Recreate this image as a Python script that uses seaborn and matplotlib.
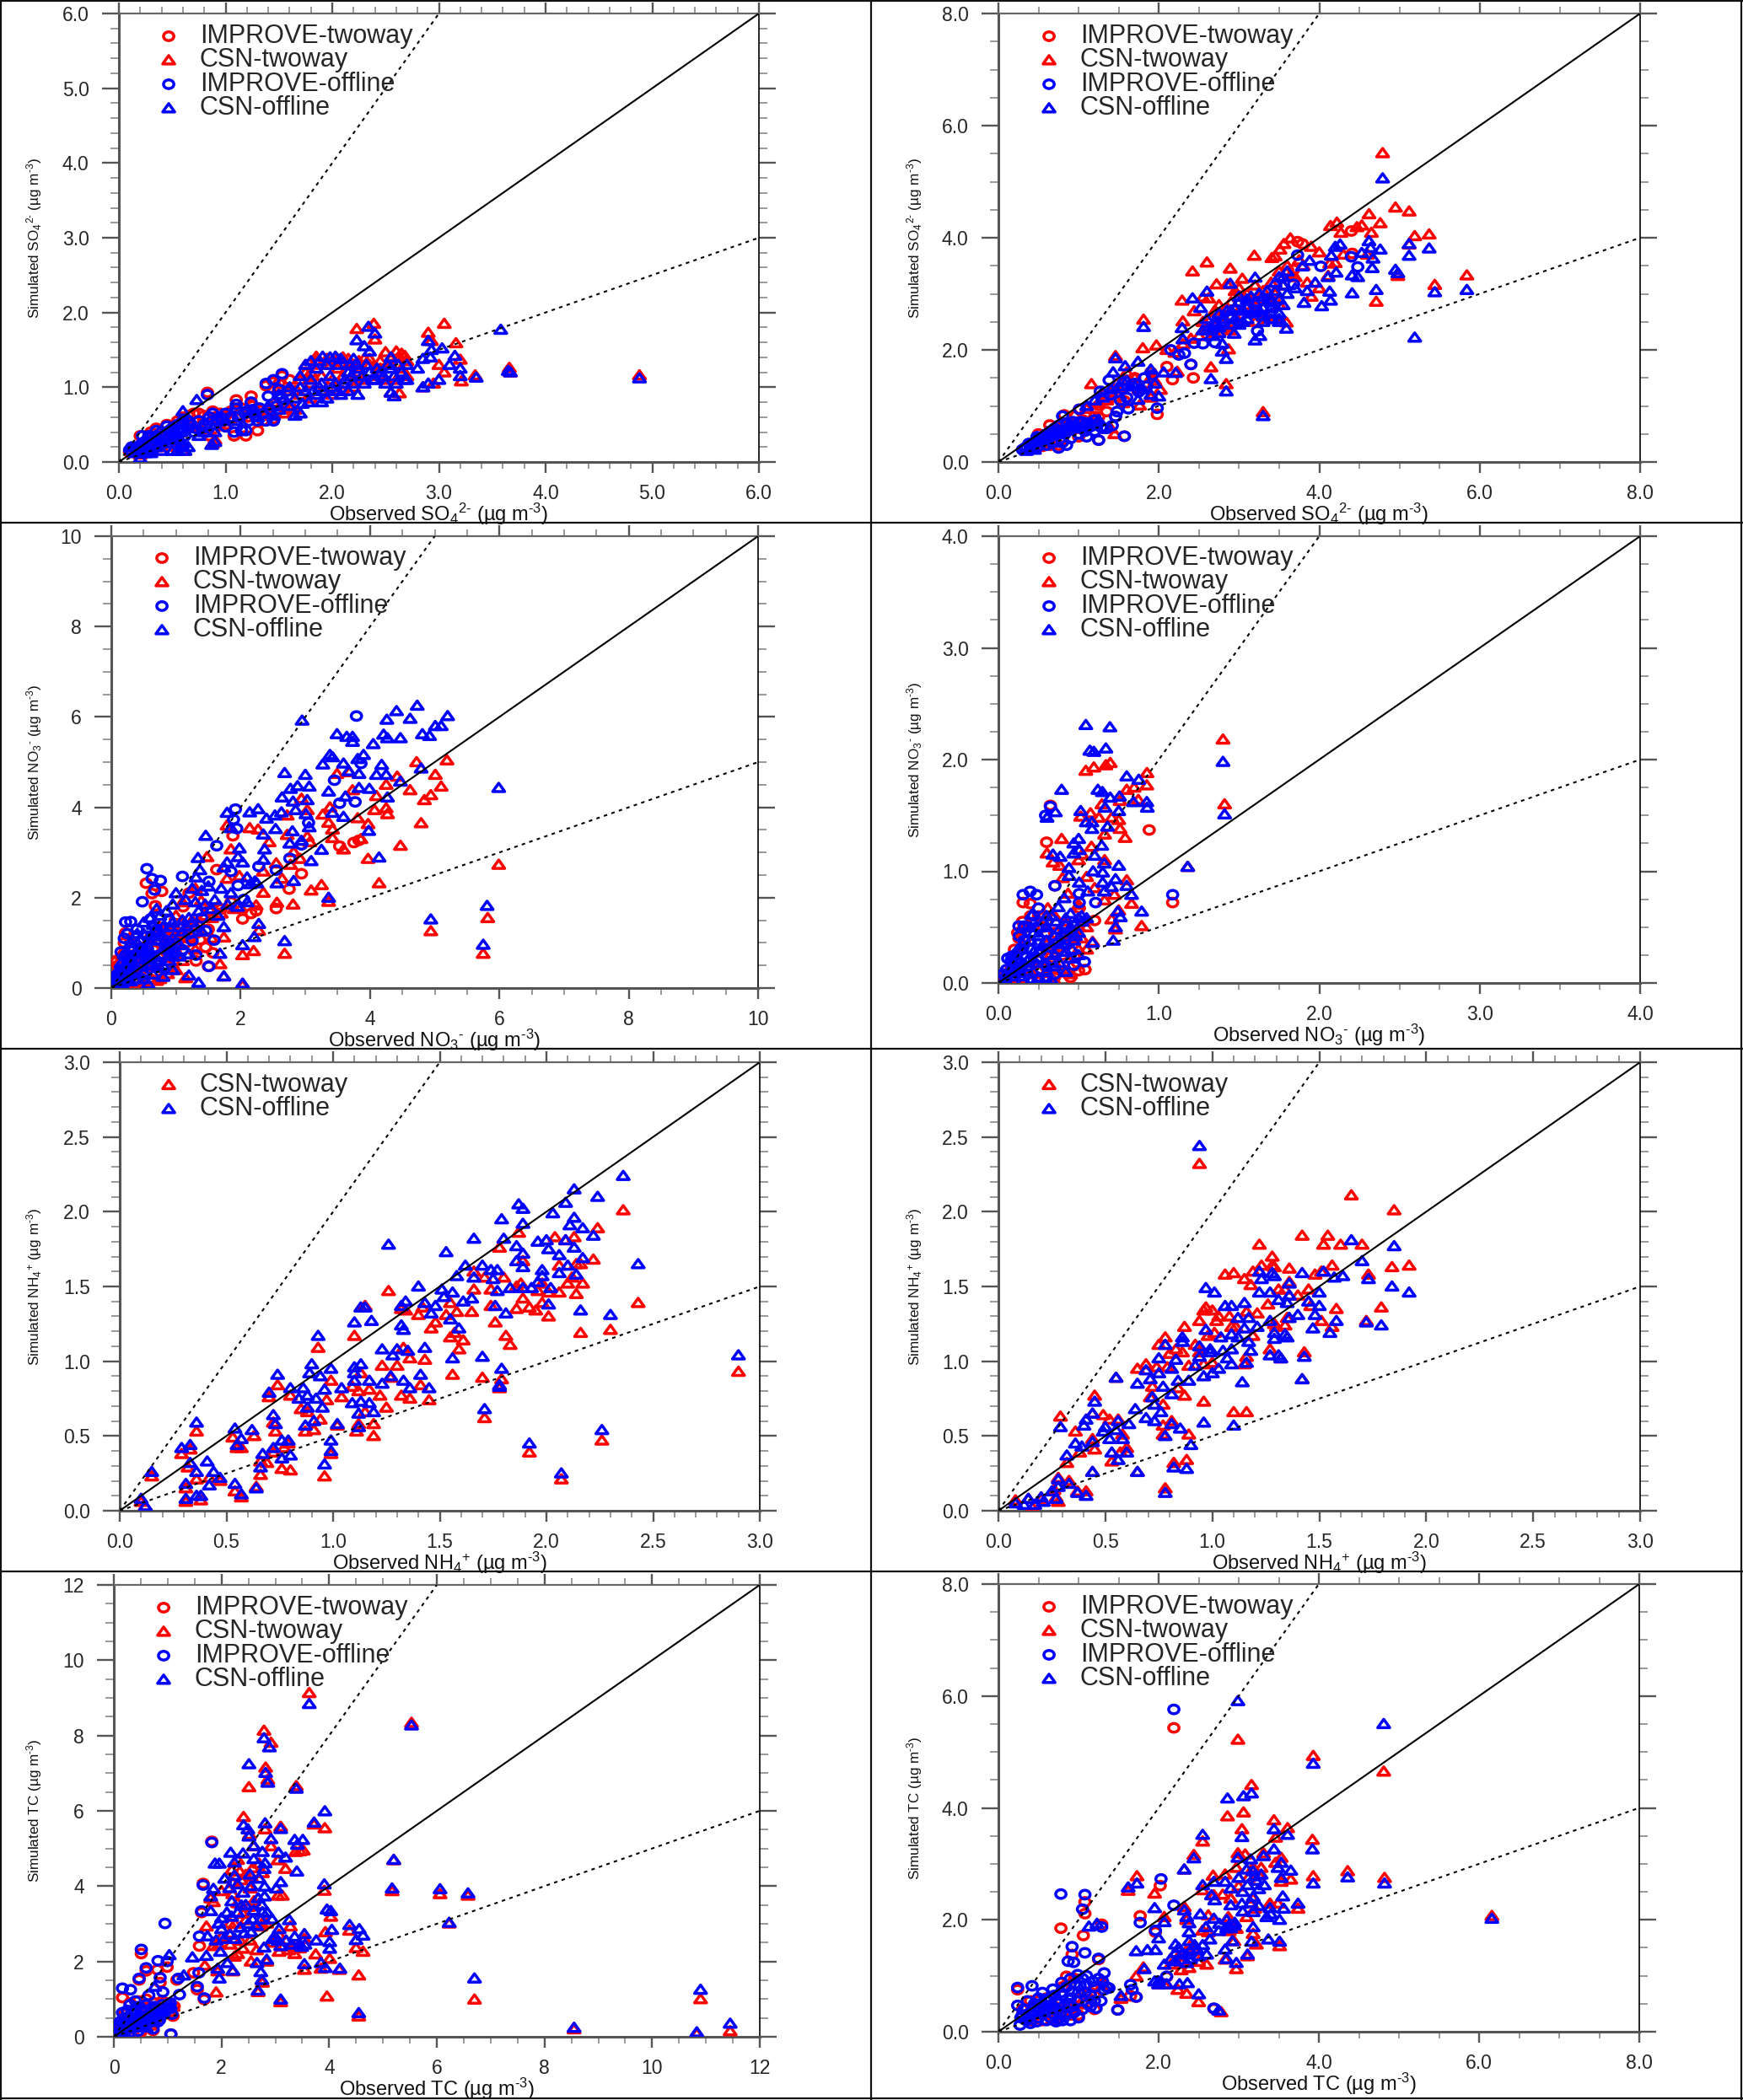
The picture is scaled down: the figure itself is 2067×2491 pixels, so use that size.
import matplotlib
matplotlib.use("Agg")
import matplotlib.pyplot as plt
import seaborn as sns
from matplotlib.lines import Line2D
from matplotlib.path import Path
from matplotlib.ticker import MultipleLocator, FormatStrFormatter

# ---------- values (observed, simulated) ----------
P1_IT = [(.83,.93),(1.1,.83),(1.24,.88),(1.53,1.15),(1.38,1.02),(1.45,1.07),(1.5,1.05),(1.3,.42),(1.35,.55),(1.4,.62),(1.45,.58),(1.08,.35),(1.19,.35),(.88,.68),(.75,.65),(.8,.62),(.95,.65),(1.0,.62),(1.1,.7),(1.15,.72),(1.25,.75),(1.3,.72),(1.35,.7),(.7,.55),(.75,.45),(.85,.35),(.9,.45),(1.0,.5),(1.05,.55),(1.2,.6),(.6,.4),(.65,.5),(.55,.3),(.5,.45),(.45,.4),(.4,.3),(.35,.25),(.3,.3),(.25,.2),(.2,.2),(.15,.15),(.1,.13),(.2,.35),(.3,.4),(.35,.45),(.45,.5),(.55,.55),(.6,.6),(1.6,1.1),(1.65,.95),(1.55,.8),(1.6,.7),(1.47,.65),(.65,.62),(.7,.65),(.8,.45),(.9,.6),(.95,.5),(1.05,.68),(1.15,.6),(1.25,.65),(.3,.22),(.4,.4),(.5,.35),(.55,.42)]
P1_CT = [(3.05,1.85),(2.39,1.85),(2.23,1.78),(2.9,1.73),(3.16,1.59),(2.4,1.64),(2.93,1.62),(3.2,1.37),(3.0,1.3),(2.6,1.48),(2.65,1.45),(2.5,1.47),(1.85,1.41),(2.1,1.4),(2.15,1.38),(2.3,1.38),(2.7,1.35),(3.21,1.08),(3.67,1.2),(3.66,1.26),(4.88,1.16),(3.34,1.16),(2.63,.92),(2.55,.93),(2.95,1.05),(2.85,1.0),(3.05,1.2),(1.75,1.3),(1.8,1.2),(1.9,1.3),(2.0,1.35),(2.05,1.25),(2.2,1.3),(2.25,1.2),(2.35,1.3),(2.45,1.25),(2.55,1.3),(2.65,1.25),(1.7,1.1),(1.8,1.05),(1.9,1.15),(2.0,1.1),(2.1,1.15),(2.2,1.1),(2.3,1.1),(2.4,1.15),(2.5,1.1),(2.6,1.1),(2.7,1.15),(1.6,.95),(1.7,.9),(1.8,.85),(1.9,.95),(2.0,.9),(2.1,.95),(2.2,1.0),(1.65,.7),(1.55,.65),(1.45,.8),(1.4,.7),(.9,.3),(.88,.25),(.55,.2),(.6,.15),(.2,.1),(.3,.15),(.4,.2),(1.75,1.2),(1.85,1.35),(1.95,1.38),(2.05,1.38),(2.15,1.3),(2.25,1.35),(2.35,1.38),(2.45,1.35),(2.55,1.38),(2.62,1.4),(2.68,1.42),(1.5,1.0),(1.55,.75),(.6,.55),(.5,.4),(.4,.3),(.3,.25),(.2,.15),(1.0,.55),(1.2,.65)]
P1_IO = [(.83,.9),(1.1,.77),(1.24,.8),(1.53,1.18),(1.38,1.05),(1.45,1.1),(1.4,.88),(1.5,.97),(1.15,.42),(1.08,.4),(1.19,.42),(.88,.65),(.85,.6),(.95,.6),(1.0,.65),(1.1,.72),(1.25,.7),(1.3,.55),(1.35,.65),(1.45,.55),(1.2,.68),(.75,.55),(.8,.5),(.9,.5),(1.0,.47),(.7,.4),(.6,.5),(.65,.45),(.55,.5),(.5,.45),(.22,.35),(.45,.48),(.4,.4),(.35,.35),(.3,.33),(.25,.28),(.2,.22),(.15,.18),(.12,.14),(.1,.16),(.3,.2),(.4,.25),(.5,.3),(.55,.35),(.6,.55),(.65,.55),(.2,.15),(.15,.2),(.35,.42),(.12,.2),(.18,.12),(.22,.25),(.28,.15),(.28,.35),(.33,.2),(.38,.28),(.42,.35),(.47,.42),(.52,.38),(.58,.42),(.62,.35),(.68,.5),(.72,.45),(.78,.45),(.82,.4),(.87,.55),(.92,.55),(.97,.55),(1.05,.6),(1.12,.6),(1.18,.65),(1.22,.55),(1.28,.62),(1.32,.72),(1.38,.55),(1.42,.7),(1.48,.75),(1.52,.85),(1.58,.95)]
P1_CO = [(3.58,1.77),(2.34,1.81),(2.4,1.72),(2.23,1.63),(2.9,1.62),(2.3,1.55),(3.03,1.52),(2.93,1.5),(2.35,1.48),(3.15,1.42),(2.85,1.38),(2.92,1.4),(2.55,1.4),(1.91,1.41),(2.03,1.41),(1.8,1.35),(2.17,1.3),(2.7,1.3),(3.1,1.3),(3.2,1.25),(2.8,1.25),(3.2,1.15),(3.35,1.13),(3.65,1.22),(3.67,1.2),(4.88,1.12),(3.0,1.1),(2.9,1.05),(2.85,1.0),(2.55,.93),(2.58,.88),(2.24,.9),(.73,.83),(.6,.68),(1.7,.65),(1.75,1.3),(1.85,1.25),(1.95,1.3),(2.05,1.3),(2.15,1.2),(2.25,1.25),(2.35,1.2),(2.45,1.2),(2.55,1.25),(2.65,1.2),(2.7,1.1),(2.6,1.05),(2.5,1.05),(2.4,1.1),(2.3,1.05),(2.2,1.05),(2.1,1.05),(2.0,1.0),(1.9,1.05),(1.8,1.1),(1.7,1.15),(1.75,.95),(1.85,.9),(1.95,.85),(2.05,.95),(2.15,.95),(1.65,.85),(1.55,.85),(1.6,.75),(1.5,.7),(1.45,.62),(1.65,.62),(1.9,.8),(.9,.27),(.87,.23),(.6,.2),(.55,.15),(.62,.15),(.5,.15),(.4,.15),(.3,.12),(.2,.05),(.25,.2),(.35,.3),(.45,.35),(.15,.12),(.25,.12),(.35,.2),(.45,.25),(.5,.25),(.55,.3),(.6,.25),(.65,.2),(.58,.4),(.5,.45),(.42,.3),(.3,.25),(.75,.35),(.8,.4),(.9,.4),(1.0,.55),(1.1,.55),(1.2,.7),(1.3,.6),(1.4,.75),(1.5,.9),(1.6,1.0),(1.7,1.0),(1.72,.78),(1.78,.8),(1.82,.95),(1.88,1.0),(1.93,.95),(1.98,1.15),(2.03,1.05),(2.08,.9),(2.12,1.1),(2.18,1.15),(2.22,1.3),(2.28,1.15),(2.32,1.3),(2.38,1.1),(2.42,1.25),(2.48,1.15),(2.52,1.3),(2.58,1.15),(2.62,1.3),(2.68,1.1),(1.88,1.35),(1.98,1.4),(2.08,1.38),(2.2,1.38)]

P2_IT = [(3.73,3.93),(3.79,3.89),(4.4,4.12),(4.41,3.72),(3.68,3.43),(2.43,1.5),(2.17,1.47),(1.98,.85),(2.4,1.74),(1.25,1.01),(1.57,1.09),(3.23,2.49),(.64,.66),(1.25,.39),(1.57,.46),(1.2,.81),(1.46,.81),(1.01,.94),(.82,.84),(1.3,1.2),(1.5,1.4),(1.7,1.5),(1.9,1.6),(2.1,1.7),(.9,.7),(.7,.5),(.5,.4),(.4,.3),(.6,.35),(.8,.4),(1.0,.45),(.35,.25),(.5,.5),(.55,.45),(.65,.55),(.75,.6),(.85,.65),(.95,.7),(1.05,.75),(1.15,.65),(1.25,.8),(1.35,.9),(.45,.3),(.55,.28),(.65,.3),(.75,.3)]
P2_CT = [(4.79,5.51),(4.95,4.54),(5.12,4.47),(4.62,4.42),(4.76,4.26),(4.22,4.27),(4.14,4.21),(4.27,4.09),(4.53,4.22),(4.47,4.19),(4.65,4.09),(5.19,4.03),(5.37,4.06),(5.12,3.88),(4.98,3.32),(5.84,3.33),(5.44,3.16),(4.71,2.86),(3.59,2.49),(2.84,1.39),(3.3,.89),(2.65,1.69),(3.64,3.99),(3.56,3.89),(3.51,3.79),(3.45,3.67),(3.41,3.64),(3.19,3.68),(2.6,3.56),(2.42,3.4),(2.89,3.45),(3.9,3.84),(4.0,3.74),(4.13,3.54),(4.11,3.32),(3.04,3.27),(2.72,3.17),(2.85,3.17),(2.29,2.88),(2.55,2.94),(2.62,2.92),(2.44,2.69),(2.3,2.51),(1.81,2.54),(1.46,1.89),(1.8,2.03),(1.97,2.08),(1.16,1.39),(1.76,1.01),(2.02,1.29),(2.23,1.61),(2.87,2.01),(3.0,3.1),(3.1,3.0),(3.2,3.15),(3.3,3.05),(3.4,3.2),(3.5,3.4),(3.6,3.5),(3.7,3.3),(2.9,2.85),(3.0,2.7),(3.1,2.8),(2.7,2.7),(2.8,2.6),(3.3,2.75),(3.5,2.8),(3.8,3.5),(3.85,3.2),(4.0,3.1),(3.9,2.95),(2.6,2.4),(2.7,2.3),(2.85,2.4),(2.9,2.35),(3.2,2.5),(2.5,2.25),(2.1,2.0),(2.2,1.95),(1.6,1.6),(1.7,1.5),(1.9,1.5),(1.5,1.3),(1.4,1.25),(1.3,1.2),(1.9,1.15),(1.55,1.05),(1.25,1.05),(1.1,.95),(.95,.85),(.8,.7),(.7,.55),(.6,.45),(.5,.4),(1.4,.6),(1.45,.5),(2.55,2.5),(2.65,2.55),(2.75,2.8),(2.85,2.75),(2.95,3.05),(3.05,2.95),(3.15,2.9),(3.25,2.95),(3.35,2.9),(3.45,3.0),(3.55,3.15),(3.65,3.35),(3.75,3.6),(4.2,3.55),(4.3,3.7),(4.6,3.7),(3.2,2.65),(3.35,2.6),(3.45,2.55),(3.0,2.5),(2.4,2.2),(2.3,2.1),(1.45,1.15),(1.35,1.1),(1.95,1.45),(1.85,1.4),(1.75,1.3)]
P2_IO = [(3.73,3.69),(4.4,3.66),(4.48,3.48),(4.02,3.49),(3.68,3.17),(2.4,1.74),(1.98,.96),(2.15,2.0),(2.44,2.12),(2.7,2.13),(2.55,2.11),(2.25,1.91),(2.32,1.94),(1.27,1.26),(1.38,1.46),(1.62,.95),(1.46,.81),(1.57,.46),(1.25,.39),(.8,.82),(1.01,.94),(3.23,2.34),(.4,.3),(.35,.25),(.45,.35),(.5,.42),(.55,.45),(.6,.5),(.65,.55),(.7,.6),(.75,.65),(.85,.7),(.9,.65),(1.0,.7),(1.1,.7),(1.2,.75),(.3,.22),(.5,.28),(.6,.3),(.7,.38),(.8,.35),(.9,.42),(1.0,.5),(1.1,.45),(1.2,.55),(1.3,.6),(.75,.25),(.85,.3),(1.4,1.2),(1.55,1.3),(1.7,1.4),(1.85,1.35),(.33,.25),(.38,.33),(.43,.28),(.48,.45),(.53,.35),(.58,.4),(.63,.42),(.68,.48),(.73,.5),(.78,.55),(.83,.5),(.88,.58),(.93,.72),(.98,.62),(1.03,.72),(1.08,.55),(1.13,.62),(1.18,.65),(1.23,.68),(1.28,.62),(1.35,.6),(1.42,.65),(1.48,.9),(1.52,1.1),(1.6,1.15),(1.75,1.25),(1.82,1.5),(1.92,1.55)]
P2_CO = [(4.79,5.06),(4.62,3.94),(4.26,3.88),(4.2,3.84),(5.12,3.89),(5.37,3.81),(5.12,3.68),(4.64,3.82),(4.76,3.79),(4.53,3.73),(4.67,3.63),(4.15,3.68),(4.66,3.46),(4.21,3.38),(4.95,3.43),(4.98,3.37),(3.88,3.59),(3.79,3.49),(4.41,3.33),(4.48,3.3),(4.11,3.3),(4.71,3.07),(4.41,3.01),(4.13,3.04),(5.44,3.03),(5.84,3.07),(4.14,2.88),(4.03,2.78),(3.81,2.84),(3.2,3.29),(2.89,3.18),(2.6,3.04),(2.42,2.92),(2.52,2.75),(2.29,2.39),(1.81,2.41),(3.59,2.38),(2.94,2.29),(3.2,2.17),(3.26,2.25),(5.19,2.22),(2.3,2.19),(2.79,2.11),(2.79,1.97),(2.84,1.84),(1.46,1.85),(2.65,1.48),(2.84,1.26),(3.3,.82),(2.0,1.17),(1.74,1.11),(2.21,1.59),(1.58,1.71),(1.43,1.6),(1.74,1.79),(2.06,1.6),(3.5,3.3),(3.55,3.15),(3.45,3.05),(3.6,3.0),(3.5,2.9),(3.4,2.85),(3.55,2.8),(3.3,2.95),(3.2,2.85),(3.1,2.9),(3.0,2.95),(2.95,2.75),(3.05,2.7),(3.15,2.65),(3.25,2.7),(3.4,2.65),(3.5,2.65),(3.3,2.5),(3.1,2.55),(2.9,2.6),(2.75,2.65),(2.7,2.5),(2.8,2.5),(2.9,2.45),(3.0,2.45),(2.6,2.55),(2.55,2.35),(2.65,2.35),(2.75,2.3),(3.7,3.1),(3.85,3.05),(3.95,3.2),(3.6,3.4),(1.9,1.65),(1.65,1.35),(1.55,1.45),(1.9,1.2),(1.3,1.25),(1.2,1.1),(1.1,1.0),(.6,.45),(.5,.38),(.4,.25),(.45,.22),(.35,.2),(.7,.35),(.9,.6),(2.6,2.35),(2.7,2.45),(2.8,2.55),(2.9,2.7),(3.0,2.85),(3.1,2.75),(3.2,2.7),(3.3,2.75),(3.4,2.75),(3.5,2.55),(3.4,2.9),(3.35,3.05),(3.45,3.2),(3.55,3.3),(3.25,3.0),(3.15,2.95),(3.05,2.5),(2.95,2.55),(2.85,2.7),(2.75,2.4),(2.65,2.25),(3.3,2.6),(3.4,2.55),(3.5,2.5),(1.5,1.35),(1.6,1.45),(1.7,1.35),(1.8,1.3),(1.3,1.15),(1.4,1.3),(1.95,1.4),(.5,.35),(.55,.4),(.65,.5),(.7,.55),(.8,.55),(.85,.6),(.95,.6),(1.05,.6),(1.15,.7),(1.25,.75)]

P3_IT = [(1.88,3.37),(1.63,2.62),(2.94,2.53),(2.75,2.19),(2.55,1.76),(2.24,1.71),(2.03,1.53),(2.16,1.65),(.54,2.32),(.78,2.14),(.63,2.09),(.68,1.82),(1.5,1.3),(1.37,1.07),(1.46,.9),(1.31,.6),(1.5,.48),(.22,1.22),(3.53,3.14),(3.75,3.22),(3.83,3.27),(1.57,.78),(1.11,1.8),(1.2,2.1),(1.5,1.7),(1.7,1.75),(1.85,1.9),(.3,1.05),(.45,.9),(.6,1.1),(.8,1.3),(.9,1.0),(1.0,.75),(1.1,1.2),(.25,.45),(.15,.3),(.35,.6),(.5,.5),(.7,.6),(.4,.15),(.6,.2),(.3,.05),(.15,.02),(.08,.1),(.05,.05),(.2,.15),(.85,.5),(.95,.45),(.1,.5),(.2,1.0),(.35,1.15),(.45,.45),(.55,.7),(.65,.85),(.75,1.0),(.85,.8),(1.0,.9),(1.15,1.0),(1.3,1.2),(.95,1.25),(.05,.2),(.12,.08),(.25,.08),(.35,.3)]
P3_CT = [(5.19,5.04),(4.72,5.0),(5.01,4.72),(3.49,4.74),(3.68,4.78),(4.42,4.68),(5.1,4.46),(4.62,4.38),(4.94,4.27),(4.84,4.16),(4.79,3.65),(4.47,3.15),(3.97,2.86),(5.99,2.73),(4.14,2.32),(3.25,2.28),(3.09,2.16),(4.94,1.26),(5.82,1.55),(5.75,.76),(2.68,.76),(2.2,.82),(2.03,.73),(1.68,.53),(2.81,1.85),(2.56,1.89),(3.36,1.91),(2.28,1.27),(1.74,1.12),(1.74,.26),(2.03,.06),(1.15,.22),(.87,.31),(.7,.16),(4.25,3.98),(4.07,3.94),(4.27,3.85),(4.1,4.25),(3.97,3.63),(3.81,3.76),(4.25,4.5),(3.73,4.38),(3.38,4.0),(3.27,3.84),(3.36,3.66),(3.42,3.51),(3.42,3.32),(3.59,3.07),(3.86,3.3),(3.03,3.94),(2.94,4.19),(2.72,3.82),(2.14,3.54),(2.27,3.51),(1.79,3.6),(2.44,3.23),(3.03,3.35),(3.07,3.23),(2.72,3.39),(2.82,3.01),(2.55,2.76),(2.77,2.73),(2.92,2.86),(1.85,3.07),(1.48,2.9),(2.64,2.42),(1.98,2.48),(2.35,2.58),(2.35,2.11),(1.79,2.42),(2.0,1.77),(2.24,1.83),(1.66,1.83),(1.39,1.93),(1.3,2.2),(1.1,1.9),(1.0,1.6),(.9,1.2),(.8,.9),(.6,.8),(.5,.6),(.4,.7),(.3,.4),(.25,.15),(.55,.3),(.45,.12),(1.2,1.1),(1.3,.85),(1.55,1.1),(1.1,.6),(1.0,.4),(.7,.45),(.3,.9),(.4,.85),(.55,1.0),(.65,1.15),(.75,1.35),(.85,1.1),(.95,1.3),(1.05,1.4),(1.15,1.3),(1.25,1.5),(1.35,1.45),(1.45,1.6),(1.55,1.55),(1.7,1.65),(1.9,1.75),(.1,.4),(.2,.3),(.35,.35),(.5,.15),(.6,.45),(.75,.2),(.05,.6),(.15,.75),(.25,.65)]
P3_IO = [(3.79,6.02),(3.45,4.6),(1.92,3.96),(1.89,3.73),(1.94,3.53),(3.53,4.09),(3.77,4.12),(3.86,4.97),(3.05,3.66),(2.94,3.17),(1.63,3.15),(2.76,2.87),(2.28,2.69),(2.55,2.61),(1.85,2.58),(.55,2.64),(.63,2.42),(.76,2.38),(.67,2.17),(1.1,2.47),(1.51,2.36),(1.96,2.27),(.48,1.91),(.61,1.53),(.22,1.46),(.3,1.47),(2.05,1.96),(1.46,1.27),(1.59,1.06),(1.31,.73),(1.51,.48),(.2,1.1),(.4,1.3),(.55,1.15),(.7,1.3),(.9,1.5),(1.05,1.35),(1.2,1.2),(1.4,1.55),(.3,.9),(.45,.75),(.6,.55),(.75,.7),(.25,.55),(.15,.4),(.1,.3),(.08,.15),(.05,.1),(.12,.08),(.03,.2),(.06,.25),(.18,.2),(.3,.25),(.4,.4),(.5,.3),(.9,.85),(1.0,1.0),(.85,1.05),(.02,.02),(.04,.04),(.06,.06),(.08,.04),(.1,.07),(.03,.08),(.05,.14),(.07,.18),(.1,.2),(.13,.14),(.15,.12),(.17,.05),(.2,.1),(.02,.12),(.12,.24),(.16,.28),(.2,.35),(.23,.3),(.27,.18),(.22,.72),(.3,.6),(.35,.85),(.42,.65),(.5,.8),(.58,.75),(.68,.9),(.8,.75),(.95,.7),(1.1,.85),(1.25,1.05),(.15,.8),(.25,1.2)]
P3_CO = [(4.73,6.25),(4.41,6.13),(2.95,5.92),(4.26,5.94),(4.62,5.96),(5.2,6.02),(5.1,5.8),(5.01,5.8),(3.49,5.62),(3.64,5.56),(3.73,5.56),(3.73,5.45),(4.21,5.61),(4.27,5.53),(4.47,5.53),(4.81,5.62),(4.92,5.58),(4.05,5.4),(3.38,5.16),(3.42,5.11),(3.27,4.95),(3.59,4.97),(3.9,5.16),(3.81,5.07),(4.18,4.94),(3.67,4.8),(3.83,4.74),(4.1,4.72),(4.25,4.72),(4.79,4.86),(2.68,4.76),(3.0,4.72),(4.47,4.57),(5.99,4.43),(2.77,4.41),(2.88,4.47),(3.06,4.46),(3.36,4.35),(3.83,4.43),(3.99,4.41),(2.64,4.22),(4.27,4.22),(3.62,4.24),(3.03,4.16),(2.81,4.13),(1.79,3.88),(2.14,3.89),(2.27,3.96),(2.4,3.75),(2.53,3.82),(2.63,3.89),(2.85,3.94),(3.01,3.85),(3.42,3.88),(3.59,3.79),(3.06,3.56),(1.85,3.54),(2.35,3.4),(2.54,3.52),(2.8,3.47),(3.98,3.48),(1.46,3.37),(1.98,3.09),(2.37,3.07),(2.76,3.2),(2.94,3.26),(3.25,3.06),(4.14,2.89),(1.96,2.9),(2.35,2.84),(2.03,2.78),(1.34,2.88),(3.09,2.81),(1.79,2.78),(1.37,2.61),(1.74,2.67),(1.31,2.45),(2.1,2.45),(2.56,2.32),(2.82,2.37),(3.36,2.0),(2.22,2.36),(5.81,1.82),(4.94,1.52),(5.75,.96),(2.28,1.42),(2.21,1.13),(2.68,1.04),(2.03,.95),(1.68,.76),(1.74,1.35),(1.2,.28),(1.35,.12),(1.74,.26),(2.03,.1),(.57,.09),(1.4,2.15),(1.25,2.2),(1.5,2.25),(1.7,2.2),(1.85,2.1),(1.6,1.95),(1.45,1.85),(1.3,1.9),(1.15,1.95),(1.0,2.1),(.95,1.85),(.85,1.7),(.75,1.6),(.65,1.4),(.9,1.35),(1.1,1.5),(1.25,1.45),(.5,1.2),(.4,1.0),(.55,.95),(.7,1.05),(.85,.95),(1.0,.8),(.3,.7),(.45,.5),(.6,.65),(.75,.45),(.9,.6),(.15,.55),(.25,.35),(.35,.3),(.5,.2),(.65,.3),(.8,.25),(1.05,.7),(.1,.2),(.18,.32),(.25,.5),(.33,.55),(.38,.8),(.45,1.05),(.55,.85),(.6,1.15),(.7,1.25),(.8,1.15),(.95,1.45),(1.1,1.25),(1.2,1.55),(1.3,1.35),(1.4,1.25),(1.35,1.7),(1.55,1.75),(1.65,1.6),(1.8,1.85),(1.95,1.8),(2.1,1.9),(2.15,2.3),(2.25,2.32),(.2,.15),(.3,.15),(.4,.2),(.5,.35),(.6,.5),(.7,.6),(.8,.5),(.9,.75),(.95,.4),(.12,.42),(.2,.75),(.3,1.0),(.4,1.2),(.5,1.45),(.6,1.55),(.7,1.75),(.8,1.35),(.95,1.1),(1.05,.95),(1.2,.75)]

P4_IT = [(.324,1.59),(.94,1.37),(.3,1.26),(.154,.72),(.198,.71),(1.086,.72),(.504,.67),(.6,.56),(.128,.4),(.163,.38),(.54,.12),(.5,.11),(.352,.87),(.25,.6),(.18,.5),(.1,.3),(.08,.15),(.05,.08),(.15,.05),(.2,.03),(.3,.02),(.35,.05),(.4,.1),(.3,.3),(.4,.25),(.45,.4),(.25,.2),(.2,.3),(.12,.2),(.35,.45),(.28,.5),(.1,.05),(.03,.02),(.2,.6),(.15,.55),(.4,.35),(.35,.15),(.45,.05),(.25,.02),(.1,.02),(.3,.55),(.12,.45)]
P4_CT = [(1.4,2.18),(.697,1.97),(.67,1.95),(.595,1.93),(.545,1.9),(.926,1.88),(.8,1.73),(.846,1.75),(.925,1.77),(.872,1.64),(.758,1.63),(.645,1.6),(1.41,1.6),(.513,1.49),(.574,1.52),(.627,1.48),(.706,1.48),(.75,1.46),(.758,1.38),(.662,1.33),(.79,1.3),(.394,1.29),(.58,1.22),(.303,1.16),(.522,1.15),(.5,1.1),(.341,1.08),(.382,1.05),(.662,1.1),(1.18,1.04),(.8,.92),(.723,.79),(.662,.74),(.83,.71),(.4,.94),(.75,.65),(.706,.57),(.893,.51),(.73,.48),(.587,.37),(.308,.67),(.434,.8),(.55,.95),(.6,.85),(.5,.7),(.55,.5),(.48,.45),(.5,.3),(.42,.35),(.35,.3),(.3,.2),(.25,.12),(.45,.15),(.38,.12),(.2,.08),(.15,.1),(.3,.05),(.1,.18),(.2,.15),(.3,.35),(.4,.42),(.5,.5),(.52,.4),(.55,.3),(.48,.25),(.45,.08),(.35,.02),(.25,.02),(.42,.55),(.35,.6),(.28,.62),(.22,.55)]
P4_IO = [(.324,1.58),(.294,1.5),(.154,.79),(.198,.82),(.238,.79),(1.086,.79),(.352,.87),(.606,.72),(.504,.72),(.504,.8),(.25,.67),(.128,.51),(.163,.51),(.058,.22),(.084,.24),(.536,.19),(.47,.16),(.2,.45),(.25,.35),(.3,.45),(.15,.3),(.1,.1),(.05,.05),(.15,.02),(.25,.03),(.35,.08),(.3,.25),(.35,.35),(.2,.2),(.12,.15),(.18,.08),(.02,.03),(.08,.2),(.12,.27),(.16,.38),(.2,.3),(.24,.5),(.1,.02),(.14,.12),(.18,.15),(.22,.18),(.26,.28),(.3,.15),(.34,.2),(.38,.3),(.42,.42),(.05,.12),(.03,.08),(.2,.04),(.3,.04),(.13,.42),(.16,.5),(.22,.6)]
P4_CO = [(.545,2.31),(.695,2.29),(.57,2.08),(.595,2.07),(.67,2.1),(1.4,1.98),(.8,1.85),(.875,1.82),(.394,1.73),(.62,1.73),(.648,1.71),(.697,1.66),(.755,1.67),(.842,1.62),(.925,1.62),(.928,1.57),(1.41,1.51),(.665,1.57),(.513,1.54),(.75,1.54),(.355,1.53),(.303,1.48),(.583,1.44),(.548,1.44),(.68,1.4),(.583,1.38),(.644,1.23),(.5,1.29),(.47,1.25),(.504,1.19),(.47,1.16),(.34,1.15),(.385,1.13),(.6,1.14),(.66,1.07),(1.18,1.04),(.75,1.05),(.44,1.03),(.44,.96),(.59,1.0),(.65,.99),(.73,.93),(.65,.9),(.8,.87),(.705,.86),(.66,.82),(.557,.82),(.83,.79),(.504,.9),(.41,.76),(.373,.68),(.744,.64),(.76,.59),(.893,.64),(.73,.5),(.587,.36),(.716,.38),(.207,.61),(.45,.62),(.5,.58),(.42,.52),(.33,.6),(.28,.55),(.38,.48),(.48,.42),(.3,.38),(.25,.42),(.4,.35),(.22,.28),(.35,.25),(.46,.3),(.28,.18),(.18,.2),(.38,.18),(.12,.12),(.08,.06),(.22,.1),(.3,.1),(.1,.25),(.15,.35),(.2,.38),(.25,.5),(.3,.5),(.35,.42),(.4,.45),(.45,.5),(.5,.45),(.52,.55),(.22,.45),(.27,.33),(.32,.32),(.37,.38),(.42,.28),(.47,.38),(.5,.25),(.15,.18),(.25,.22),(.35,.15),(.45,.22),(.52,.6),(.42,.58),(.36,.55),(.3,.6),(.2,.5),(.12,.3),(.04,.04),(.06,.1),(.1,.14),(.15,.06),(.25,.05),(.33,.03),(.42,.1),(.55,.58)]

P5_CT = [(2.36,2.01),(2.24,1.89),(1.87,1.86),(2.04,1.83),(2.13,1.83),(1.78,1.76),(2.09,1.81),(1.89,1.67),(2.22,1.68),(2.14,1.65),(2.16,1.65),(2.06,1.64),(1.66,1.6),(1.71,1.56),(1.8,1.56),(2.12,1.56),(2.17,1.52),(2.1,1.52),(1.88,1.52),(1.86,1.5),(1.98,1.52),(1.96,1.47),(2.01,1.46),(2.06,1.46),(1.66,1.48),(1.74,1.48),(2.14,1.45),(1.26,1.47),(1.89,1.42),(2.43,1.39),(1.55,1.39),(1.74,1.37),(1.98,1.39),(1.92,1.36),(1.86,1.35),(1.32,1.35),(1.15,1.37),(1.34,1.34),(1.42,1.36),(1.58,1.33),(1.65,1.33),(1.95,1.34),(2.01,1.3),(1.4,1.31),(1.53,1.31),(1.76,1.26),(1.48,1.26),(1.46,1.22),(2.3,1.21),(2.16,1.19),(1.1,1.17),(1.81,1.17),(1.57,1.19),(1.55,1.16),(1.61,1.14),(1.83,1.11),(1.59,1.08),(.93,1.09),(1.33,1.09),(1.36,1.02),(1.43,1.01),(1.23,.97),(1.3,.97),(1.56,.91),(1.7,.89),(1.79,.88),(1.13,.92),(.99,.87),(.74,.84),(1.27,.89),(1.09,.83),(1.41,.84),(1.12,.8),(1.17,.81),(.7,.76),(.8,.77),(1.04,.76),(1.22,.77),(.97,.74),(1.32,.77),(1.36,.75),(1.45,.74),(1.78,.82),(.85,.68),(.88,.66),(1.25,.69),(1.15,.66),(.94,.61),(.72,.59),(1.71,.62),(1.02,.57),(1.19,.58),(.73,.53),(.87,.53),(.91,.54),(.36,.53),(1.12,.58),(1.11,.53),(1.19,.5),(.53,.49),(.63,.5),(.57,.42),(.55,.42),(2.26,.47),(.79,.45),(.77,.42),(.99,.38),(.29,.38),(.33,.41),(1.92,.39),(.66,.33),(.72,.39),(.69,.32),(.32,.29),(.76,.28),(.8,.27),(.96,.23),(.15,.23),(.66,.24),(.36,.21),(2.07,.21),(.42,.22),(.47,.2),(.31,.15),(.54,.13),(.64,.16),(.57,.09),(.31,.06),(.38,.07),(.1,.06),(.12,.03),(2.9,.93)]
P5_CO = [(2.36,2.24),(2.13,2.15),(2.24,2.1),(1.87,2.05),(1.89,2.02),(2.09,2.06),(2.03,1.99),(1.79,1.95),(2.13,1.96),(1.89,1.92),(2.11,1.91),(2.17,1.89),(2.22,1.84),(1.66,1.82),(1.8,1.82),(1.26,1.78),(1.96,1.8),(2.0,1.81),(2.09,1.81),(1.86,1.77),(2.13,1.76),(2.01,1.75),(1.53,1.73),(1.89,1.72),(2.06,1.71),(2.17,1.69),(1.86,1.67),(2.43,1.65),(1.62,1.64),(1.7,1.64),(1.89,1.63),(1.98,1.61),(2.1,1.64),(1.74,1.61),(1.77,1.61),(2.06,1.59),(2.14,1.58),(1.98,1.57),(1.58,1.57),(1.66,1.56),(1.75,1.55),(1.96,1.53),(1.4,1.5),(1.83,1.49),(1.89,1.49),(1.93,1.49),(2.02,1.49),(1.51,1.48),(1.77,1.47),(1.56,1.46),(1.52,1.43),(1.65,1.42),(1.61,1.4),(1.34,1.4),(1.32,1.37),(1.43,1.39),(1.13,1.36),(1.15,1.36),(1.48,1.37),(1.76,1.37),(2.01,1.38),(1.46,1.32),(1.81,1.32),(2.16,1.34),(2.3,1.31),(1.55,1.28),(1.1,1.26),(1.18,1.27),(1.32,1.24),(1.33,1.21),(1.59,1.22),(.93,1.17),(1.23,1.08),(1.3,1.08),(1.35,1.07),(1.43,1.09),(1.28,1.04),(1.56,1.02),(1.7,1.03),(.9,.98),(1.13,.98),(.89,.92),(.99,.95),(1.1,.96),(.74,.91),(1.79,.95),(1.41,.91),(1.1,.92),(.94,.9),(1.27,.9),(1.33,.87),(1.1,.87),(1.17,.87),(1.23,.85),(.8,.82),(.86,.82),(1.04,.82),(.96,.81),(.7,.79),(1.36,.82),(1.45,.82),(1.78,.83),(.88,.77),(.84,.75),(.92,.75),(1.09,.72),(1.13,.73),(1.17,.72),(.88,.69),(.95,.69),(1.71,.68),(1.19,.66),(.72,.64),(1.12,.65),(.91,.6),(.73,.58),(.87,.57),(.36,.59),(1.02,.58),(1.12,.56),(.54,.55),(.62,.54),(2.26,.54),(.57,.48),(.79,.47),(.76,.47),(.99,.47),(.33,.44),(.29,.42),(.55,.44),(.72,.42),(.67,.38),(1.92,.45),(.8,.37),(.99,.4),(.76,.35),(.41,.33),(.33,.32),(.66,.29),(.96,.31),(.36,.26),(.44,.26),(.47,.22),(2.07,.25),(.15,.26),(.31,.18),(.42,.17),(.54,.18),(.64,.15),(.57,.11),(.36,.1),(.31,.08),(.38,.1),(.1,.08),(.12,.03),(2.9,1.04),(1.78,.84)]

P6_CT = [(1.65,2.11),(1.85,2.01),(1.22,1.78),(1.42,1.84),(1.54,1.84),(1.52,1.78),(1.6,1.78),(1.7,1.78),(1.84,1.63),(1.92,1.64),(1.73,1.58),(1.06,1.58),(1.1,1.59),(1.15,1.55),(1.18,1.51),(1.28,1.7),(1.28,1.64),(1.23,1.64),(1.19,1.6),(1.29,1.63),(1.36,1.62),(1.56,1.64),(1.48,1.58),(1.51,1.6),(1.36,1.53),(1.31,1.48),(1.34,1.48),(1.45,1.48),(1.4,1.44),(1.26,1.38),(1.46,1.37),(1.58,1.35),(1.79,1.36),(.97,1.36),(1.0,1.34),(.96,1.34),(1.16,1.33),(1.21,1.32),(1.03,1.3),(1.08,1.3),(1.02,1.27),(1.35,1.29),(1.51,1.27),(.94,1.27),(1.72,1.27),(.87,1.23),(1.56,1.23),(1.34,1.24),(1.29,1.25),(1.11,1.23),(1.09,1.23),(1.3,1.23),(.98,1.17),(1.01,1.19),(.78,1.16),(.75,1.11),(.92,1.11),(1.19,1.17),(1.43,1.06),(1.27,1.08),(.83,1.08),(.8,1.05),(.86,1.06),(.94,1.06),(1.16,1.03),(1.32,1.02),(.69,.98),(.65,.95),(.74,.96),(.79,.96),(.89,.97),(.96,.98),(1.0,.99),(1.15,.98),(.55,.89),(.72,.83),(.84,.82),(.87,.77),(1.42,.88),(.96,.73),(.45,.77),(.77,.71),(.71,.76),(.49,.64),(.44,.65),(.29,.63),(1.1,.66),(1.16,.66),(.81,.6),(.77,.57),(.56,.61),(.52,.61),(.36,.53),(.89,.51),(.77,.51),(.58,.51),(.44,.48),(.6,.42),(.45,.41),(.38,.39),(.57,.39),(.53,.33),(.32,.32),(.82,.32),(.88,.34),(.65,.26),(.44,.26),(.28,.22),(.33,.2),(.78,.15),(.41,.13),(.37,.13),(.26,.14),(.28,.06),(.2,.08),(.08,.07),(.14,.08),(.16,.02),(.27,.09),(.94,2.32)]
P6_CO = [(.94,2.44),(1.65,1.81),(1.85,1.77),(1.7,1.67),(1.22,1.6),(1.28,1.59),(1.42,1.59),(1.23,1.55),(1.29,1.57),(1.52,1.6),(1.57,1.56),(1.61,1.57),(1.73,1.55),(1.84,1.5),(1.92,1.46),(.97,1.49),(1.01,1.46),(1.36,1.52),(1.22,1.46),(1.27,1.46),(1.5,1.46),(1.36,1.44),(1.31,1.41),(1.35,1.39),(1.45,1.4),(1.06,1.37),(1.09,1.37),(1.15,1.39),(1.5,1.37),(1.48,1.31),(1.12,1.29),(1.17,1.29),(1.36,1.29),(1.4,1.31),(1.27,1.27),(1.58,1.27),(1.72,1.26),(1.79,1.24),(1.21,1.23),(1.47,1.22),(.97,1.21),(1.15,1.22),(1.55,1.19),(1.29,1.19),(1.34,1.18),(.86,1.16),(1.04,1.16),(1.09,1.18),(1.12,1.16),(1.29,1.15),(1.35,1.16),(1.17,1.13),(.78,1.11),(.86,1.13),(.99,1.08),(1.05,1.07),(1.09,1.08),(1.18,1.07),(.94,1.1),(.99,1.06),(.94,1.03),(1.27,1.04),(1.31,1.04),(1.32,1.02),(1.43,1.03),(.75,1.02),(.83,1.01),(1.07,1.02),(1.16,.99),(1.09,.98),(.92,.97),(.81,.95),(.69,.94),(.75,.92),(1.03,.95),(1.0,.92),(.96,.9),(.55,.89),(.71,.88),(.84,.87),(.89,.87),(1.14,.86),(1.42,.88),(.65,.85),(.77,.83),(.81,.78),(.72,.76),(.45,.73),(.73,.71),(.64,.68),(.76,.66),(.44,.65),(.69,.62),(.73,.6),(.41,.61),(.56,.6),(.61,.58),(.81,.58),(.96,.59),(.4,.57),(.29,.56),(.5,.56),(.85,.55),(1.1,.57),(.49,.53),(.78,.5),(.55,.54),(.52,.48),(.58,.48),(.44,.46),(.36,.45),(.39,.43),(.9,.44),(.32,.37),(.53,.39),(.56,.34),(.6,.39),(.82,.29),(.88,.28),(.44,.26),(.65,.26),(.28,.21),(.33,.18),(.78,.12),(.37,.12),(.41,.1),(.25,.13),(.2,.09),(.14,.08),(.08,.05),(.27,.08),(.17,.04),(.12,.04),(.28,.16),(.21,.06)]

P7_IT = [(1.82,5.19),(1.66,4.07),(1.63,3.3),(.51,2.21),(1.59,2.41),(.99,1.85),(.6,1.75),(.81,1.78),(.47,1.51),(.86,1.44),(1.17,1.51),(1.48,1.7),(1.55,1.25),(1.68,.99),(.16,1.04),(1.04,.66),(1.12,.81),(.73,.17),(.81,.51),(1.06,.07),(.3,.9),(.45,.95),(.6,1.0),(.75,.9),(.9,.95),(.2,.6),(.35,.7),(.5,.6),(.65,.65),(.8,.75),(.15,.3),(.3,.35),(.45,.3),(.6,.3),(.1,.12),(.2,.15),(.35,.1),(.05,.05),(.5,.12),(.2,.2),(.4,.5),(.55,.45),(.7,.6),(.85,.6),(.95,.7),(1.1,.55),(.25,.5)]
P7_CT = [(3.63,9.13),(5.53,8.34),(2.79,8.13),(2.92,7.81),(2.82,7.15),(2.86,6.83),(3.39,6.66),(2.51,6.63),(2.41,5.84),(3.1,5.58),(3.72,5.64),(3.92,5.54),(2.81,5.51),(2.52,5.37),(2.6,5.06),(3.46,4.93),(3.38,4.91),(2.92,5.06),(3.52,4.95),(3.05,4.69),(3.19,4.46),(5.2,4.69),(2.76,4.35),(2.19,4.43),(2.34,4.39),(2.58,4.48),(2.21,4.09),(2.53,3.94),(2.37,4.16),(3.91,3.88),(5.17,3.87),(6.06,3.79),(6.58,3.75),(1.8,3.68),(2.0,3.87),(2.21,3.79),(3.05,3.75),(3.13,3.75),(1.85,3.58),(2.4,3.27),(4.03,3.19),(3.28,2.93),(6.23,3.01),(3.93,2.78),(4.38,2.82),(1.72,2.93),(2.16,3.01),(2.73,2.93),(2.84,3.01),(3.07,2.71),(2.53,2.56),(3.54,2.6),(1.85,2.41),(2.16,2.45),(2.4,2.34),(3.36,2.37),(4.5,2.36),(4.63,2.26),(3.07,2.26),(3.36,2.2),(3.75,2.19),(4.01,2.07),(2.24,2.13),(2.55,2.0),(2.84,2.0),(1.69,1.89),(1.93,1.74),(2.21,1.74),(3.54,1.78),(3.85,1.81),(4.19,1.78),(4.55,1.63),(1.9,1.18),(3.96,1.07),(6.7,.99),(2.68,1.19),(3.1,.92),(4.55,.54),(2.76,1.44),(10.9,1.0),(11.45,.15),(10.83,.08),(8.55,.2),(.6,.7),(.9,.9),(1.1,.8),(.4,.4),(.7,.3),(.25,.2),(2.3,3.55),(2.5,3.45),(2.6,3.6),(2.75,3.0),(2.45,3.1),(2.25,3.0),(2.0,2.65),(1.95,2.45),(2.15,2.75),(2.35,2.55),(2.3,2.2),(2.65,2.3),(2.95,2.5),(3.15,2.4),(3.25,2.3),(3.45,2.35),(2.55,4.25),(2.45,4.3),(2.3,4.7),(2.7,4.6),(.5,.5),(.7,.55),(.9,.6),(.3,.3),(.15,.12)]
P7_IO = [(1.82,5.16),(1.66,4.03),(1.63,3.34),(.95,3.01),(1.59,2.67),(.51,2.32),(.82,2.02),(.99,2.0),(.6,1.83),(.47,1.55),(.86,1.57),(1.2,1.55),(1.58,1.7),(1.55,1.33),(1.68,1.03),(.16,1.29),(.31,1.25),(1.22,1.12),(1.06,.07),(.16,.64),(.73,.21),(.91,1.19),(.65,1.1),(.3,.85),(.45,.8),(.6,.85),(.75,.8),(.9,.85),(1.05,.9),(.2,.5),(.35,.6),(.5,.5),(.65,.55),(.8,.6),(.95,.65),(.1,.25),(.25,.35),(.4,.3),(.55,.35),(.7,.4),(.85,.45),(.05,.1),(.15,.15),(.3,.12),(.45,.15),(.03,.03),(.08,.05),(.2,.07),(.02,.02),(.05,.2),(.08,.3),(.12,.05),(.12,.4),(.18,.1),(.22,.25),(.28,.45),(.33,.25),(.38,.5),(.42,.42),(.48,.4),(.52,.3),(.58,.45),(.62,.42),(.68,.5),(.72,.65),(.78,.5),(.82,.4),(.88,.6),(.92,.75),(.98,.8),(1.02,.75),(1.08,.6),(.25,.7),(.4,.95),(.5,.7),(.7,.75)]
P7_CO = [(3.63,8.84),(5.53,8.27),(2.79,7.93),(2.89,7.69),(2.51,7.24),(2.82,7.01),(2.86,6.75),(3.39,6.59),(3.92,5.99),(3.72,5.69),(2.41,5.62),(2.81,5.67),(3.1,5.52),(2.49,5.51),(2.92,5.25),(3.36,5.23),(3.51,5.23),(2.51,5.32),(3.41,5.1),(2.6,5.07),(2.17,4.89),(2.4,4.87),(2.76,4.91),(3.06,4.89),(3.19,4.76),(1.88,4.6),(1.96,4.6),(2.6,4.72),(2.24,4.63),(2.81,4.61),(5.2,4.7),(3.4,4.39),(2.53,4.31),(2.79,4.46),(2.24,4.28),(2.06,4.2),(3.1,4.11),(2.8,3.99),(3.02,3.94),(1.85,3.93),(3.91,4.05),(5.17,3.94),(6.06,3.92),(6.58,3.81),(2.4,3.83),(1.8,3.73),(2.68,3.68),(2.8,3.73),(2.19,3.6),(2.37,3.49),(1.8,3.34),(3.96,3.38),(4.03,3.34),(2.76,3.31),(2.19,3.19),(2.58,3.12),(2.94,3.12),(3.26,3.1),(2.73,3.12),(1.95,3.01),(6.23,3.03),(4.38,2.97),(4.56,2.86),(4.05,2.84),(3.07,2.86),(1.74,2.67),(2.0,2.86),(2.16,2.71),(2.42,2.75),(2.55,2.78),(4.63,2.69),(3.54,2.73),(1.9,2.56),(3.36,2.66),(3.76,2.56),(3.2,2.56),(4.5,2.57),(4.01,2.52),(3.1,2.41),(2.79,2.37),(3.49,2.39),(4.01,2.34),(1.98,2.26),(1.46,2.11),(1.03,2.17),(1.72,2.15),(2.84,2.05),(2.66,1.96),(2.11,1.96),(3.54,1.93),(3.85,1.96),(3.93,1.83),(4.2,1.81),(2.21,1.76),(1.93,1.81),(2.73,1.72),(1.96,1.55),(6.7,1.55),(2.75,1.51),(2.68,1.23),(3.1,.99),(4.55,.63),(.76,1.33),(1.3,1.63),(10.9,1.25),(11.45,.35),(10.83,.12),(8.55,.24),(.55,.75),(.85,.7),(1.05,.85),(.35,.45),(.15,.2),(.6,.25),(.2,.3),(.3,.3),(.4,.25),(.5,.4),(.65,.45),(.75,.6),(.9,.7),(1.0,.75),(.45,.55),(.25,.55),(.12,.12),(.05,.05),(2.3,3.3),(2.5,3.0),(2.65,2.95),(2.45,3.5),(2.6,3.35),(2.75,3.5),(2.35,2.9),(2.25,2.6),(2.85,3.3),(2.55,4.0),(2.7,4.2),(2.3,4.05),(2.15,3.95),(3.0,2.65),(3.05,2.55),(3.3,2.45),(2.05,2.6),(2.1,3.3),(2.95,2.6),(3.45,2.45),(3.55,2.45),(2.0,3.15)]

P8_IT = [(2.19,5.43),(2.02,2.61),(.78,1.85),(1.08,2.11),(1.06,1.72),(.92,1.38),(1.77,2.07),(1.96,1.78),(1.29,1.92),(.24,.75),(1.08,2.32),(1.25,1.29),(1.65,.64),(1.72,.62),(1.49,.39),(2.69,.41),(2.1,.98),(.85,.99),(.3,.4),(.5,.55),(.6,.3),(.75,.4),(.9,.3),(1.05,.5),(1.2,.4),(1.3,.75),(.7,.2),(.4,.2),(1.15,.7),(.55,.2),(.3,.3),(.5,.25),(.6,.6),(.7,.45),(.8,.3),(.9,.5),(1.0,.3),(1.1,.5),(1.2,.65),(1.3,.85),(.4,.55),(.8,.8),(1.0,.6),(.95,.95)]
P8_CT = [(2.99,5.22),(3.93,4.93),(4.81,4.65),(3.16,4.41),(2.86,3.85),(3.06,3.92),(3.04,3.62),(3.44,3.78),(3.61,3.64),(3.46,3.47),(3.92,3.43),(2.55,3.4),(2.44,3.16),(2.99,3.19),(3.08,3.17),(3.31,3.19),(3.53,3.11),(3.46,3.02),(2.32,2.9),(3.28,2.93),(3.18,2.93),(2.97,2.93),(2.68,2.79),(2.83,2.81),(1.73,2.78),(3.93,2.78),(4.36,2.87),(4.82,2.75),(1.62,2.52),(1.95,2.47),(3.65,2.72),(3.53,2.68),(2.55,2.53),(2.69,2.44),(2.9,2.38),(3.18,2.38),(3.49,2.29),(3.39,2.29),(3.74,2.2),(2.32,2.23),(2.07,2.05),(6.16,2.07),(2.62,2.08),(2.87,2.05),(2.62,1.78),(2.97,1.84),(2.55,1.81),(2.35,2.0),(3.18,1.75),(3.22,1.56),(2.94,1.62),(3.51,1.53),(2.21,1.41),(2.38,1.47),(2.83,1.29),(3.11,1.35),(2.6,1.2),(2.97,1.12),(2.38,1.14),(2.28,1.1),(1.81,1.15),(1.72,.99),(2.0,.85),(2.07,.85),(2.24,.75),(2.35,.68),(2.5,.53),(1.53,.59),(2.78,.35),(3.0,2.6),(3.12,2.75),(3.25,2.8),(2.8,2.45),(3.2,2.2),(3.1,2.05),(2.88,1.8),(2.93,1.85),(2.45,1.45),(2.3,1.25),(2.25,1.35),(2.15,1.2),(2.4,1.55),(2.5,1.25),(.5,.3),(.7,.25),(.9,.4),(1.1,.7),(1.3,.85)]
P8_IO = [(2.19,5.76),(2.03,2.73),(.78,2.46),(1.08,2.45),(1.05,2.19),(2.19,2.26),(1.77,1.95),(.92,1.52),(.87,1.26),(.94,1.24),(1.08,1.41),(1.29,1.87),(1.25,1.31),(.24,.79),(.42,.82),(.68,.76),(.79,.88),(1.96,1.81),(1.32,1.05),(1.65,.84),(1.67,.75),(1.72,.62),(1.49,.39),(2.69,.42),(2.1,.99),(.24,.47),(.27,.12),(.99,1.02),(.3,.3),(.35,.2),(.4,.35),(.45,.5),(.5,.6),(.55,.7),(.6,.45),(.65,.6),(.7,.3),(.75,.5),(.8,.65),(.85,.8),(.9,.6),(.95,.85),(1.0,.7),(1.05,.95),(1.1,.85),(1.15,.65),(1.2,.8),(1.25,.95),(1.3,.9),(1.35,.8),(.5,.25),(.6,.2),(.75,.22),(.85,.3),(.95,.35),(1.05,.4),(1.15,.45),(1.2,.55),(.4,.15),(.55,.35),(.7,.65),(.9,.95),(1.1,1.0),(.65,.25),(.28,.25),(.32,.4),(.36,.55),(.38,.25),(.42,.3),(.47,.42),(.48,.18),(.52,.4),(.55,.5),(.58,.58),(.62,.38),(.62,.55),(.68,.45),(.72,.55),(.72,.18),(.78,.35),(.78,.7),(.82,.45),(.88,.5),(.92,.45),(.92,.72),(.98,.55),(1.02,.82),(1.08,.7),(1.12,.5),(1.18,.9),(1.22,.42),(1.28,.55),(1.32,.75),(1.38,.78),(.8,.2),(.9,.2),(1.0,.25)]
P8_CO = [(2.99,5.91),(4.81,5.5),(3.93,4.79),(3.16,4.26),(3.06,4.21),(2.86,4.17),(3.44,3.62),(3.61,3.52),(3.04,3.48),(2.55,3.52),(3.92,3.26),(3.44,3.26),(2.44,3.1),(2.99,3.11),(3.31,3.14),(3.15,3.08),(3.53,3.02),(3.49,2.93),(3.65,2.88),(2.32,2.9),(3.18,2.87),(3.28,2.81),(1.73,2.65),(1.62,2.58),(4.36,2.76),(3.93,2.65),(4.82,2.65),(2.55,2.62),(2.83,2.68),(2.69,2.68),(3.53,2.75),(3.32,2.62),(3.11,2.62),(2.9,2.56),(2.66,2.44),(3.55,2.42),(3.18,2.41),(3.74,2.29),(1.95,2.21),(2.32,2.17),(3.56,2.2),(3.39,2.21),(3.04,2.29),(2.9,2.26),(2.52,2.1),(2.07,1.96),(2.69,2.02),(3.51,2.0),(3.35,2.05),(3.18,2.14),(6.16,2.02),(2.38,1.94),(2.59,1.87),(2.76,1.93),(2.94,1.9),(3.18,1.87),(2.38,1.78),(2.0,1.67),(2.64,1.65),(2.92,1.62),(3.16,1.61),(3.37,1.65),(3.51,1.61),(2.21,1.56),(2.38,1.62),(2.48,1.47),(2.83,1.47),(1.72,1.44),(1.86,1.46),(1.96,1.46),(2.21,1.41),(2.35,1.38),(2.6,1.38),(3.11,1.38),(2.21,1.26),(2.35,1.23),(2.97,1.23),(1.82,1.12),(2.07,1.2),(1.23,1.93),(1.13,1.88),(2.26,.85),(2.36,.87),(2.5,.67),(1.53,.64),(2.75,.38),(2.0,.9),(3.0,2.75),(3.05,2.5),(3.1,2.9),(3.2,2.78),(3.22,2.7),(3.25,2.55),(3.15,2.3),(3.05,2.15),(2.85,1.85),(2.88,1.9),(2.9,1.85),(2.95,1.95),(2.85,2.0),(2.75,1.8),(2.7,2.35),(2.55,1.55),(2.45,1.55),(2.4,1.45),(2.3,1.4),(2.25,1.5),(2.15,1.3),(2.4,1.3),(2.5,1.35),(2.85,1.3),(2.1,.85),(2.0,.85),(1.95,.9),(2.35,2.05),(3.25,2.25),(3.4,2.1)]

MARKER_NAMES = ["IMPROVE-twoway", "CSN-twoway", "IMPROVE-offline", "CSN-offline"]
LIMITS = [6, 8, 10, 4, 3, 3, 12, 8]
MAJORS = [1, 2, 2, 1, .5, .5, 2, 2]
MINORS = [.2, .5, .5, .25, .1, .1, .5, .5]
SPECIES = [r"SO$_4$$^{2\text{-}}$", r"SO$_4$$^{2\text{-}}$", r"NO$_3$$^{\text{-}}$", r"NO$_3$$^{\text{-}}$",
           "NH$_4$$^{+}$", "NH$_4$$^{+}$", "TC", "TC"]
FORMATS = ["%.1f", "%.1f", "%.0f", "%.1f", "%.1f", "%.1f", "%.0f", "%.1f"]
SERIES = [
    (P1_IT, P1_CT, P1_IO, P1_CO), (P2_IT, P2_CT, P2_IO, P2_CO),
    (P3_IT, P3_CT, P3_IO, P3_CO), (P4_IT, P4_CT, P4_IO, P4_CO),
    (None, P5_CT, None, P5_CO), (None, P6_CT, None, P6_CO),
    (P7_IT, P7_CT, P7_IO, P7_CO), (P8_IT, P8_CT, P8_IO, P8_CO),
]

# ---------- layout in pixels: left, right, top, bottom ----------
W, H = 2067, 2491
BOXES = [(141, 900, 16, 548), (1184, 1945, 16, 548),
         (132, 899, 636, 1172), (1184, 1945, 636, 1166),
         (142, 901, 1260, 1792), (1184, 1945, 1260, 1792),
         (135, 901, 1880, 2416), (1184, 1944, 1879, 2410)]
LEG_X = [200, 1244, 192, 1244, 200, 1244, 194, 1244]
LEG_Y = [43, 43, 662, 662, 1287, 1287, 1907, 1906]
YLAB_X = [41, 1085] * 4

sns.set_theme(style="white")
plt.rcParams["font.family"] = ["Liberation Sans", "DejaVu Sans"]
plt.rcParams["mathtext.fontset"] = "custom"
plt.rcParams["mathtext.rm"] = "Liberation Sans"
plt.rcParams["mathtext.it"] = "Liberation Sans"
plt.rcParams["mathtext.bf"] = "Liberation Sans"
plt.rcParams["mathtext.default"] = "regular"

CIRCLE = Path(Path.unit_circle().vertices * [1, .84], Path.unit_circle().codes)
TRI = Path([(-1, -.62), (1, -.62), (0, .78), (-1, -.62)], closed=True)
STYLES = [(CIRCLE, "#ff0000"), (TRI, "#ff0000"), (CIRCLE, "#0000ff"), (TRI, "#0000ff")]

fig = plt.figure(figsize=(W / 100, H / 100), dpi=100, facecolor="white")

for i, (l, r, t, b) in enumerate(BOXES):
    ax = fig.add_axes([l / W, 1 - b / H, (r - l) / W, (b - t) / H])
    lim = LIMITS[i]
    for name, pts, (mk, col) in zip(MARKER_NAMES, SERIES[i], STYLES):
        if pts is None:
            continue
        sns.scatterplot(x=[p[0] for p in pts], y=[p[1] for p in pts], ax=ax,
                        marker=mk, s=105 if mk is TRI else 78, facecolor="none",
                        edgecolor=col, linewidth=2.5, label=name, legend=False, zorder=3)
    ax.plot([0, lim], [0, lim], color="black", lw=1.5, zorder=5)
    ax.plot([0, lim / 2], [0, lim], color="black", lw=1.5, ls=(0, (2, 2.5)), zorder=5)
    ax.plot([0, lim], [0, lim / 2], color="black", lw=1.5, ls=(0, (2, 2.5)), zorder=5)
    ax.set_xlim(0, lim)
    ax.set_ylim(0, lim)
    for axis in (ax.xaxis, ax.yaxis):
        axis.set_major_locator(MultipleLocator(MAJORS[i]))
        axis.set_minor_locator(MultipleLocator(MINORS[i]))
        axis.set_major_formatter(FormatStrFormatter(FORMATS[i]))
    ax.tick_params(axis="x", which="major", direction="out", length=9.4, width=1.7, color="#555555",
                   top=True, bottom=True, labelsize=16.5, pad=9)
    ax.tick_params(axis="x", which="minor", direction="out", length=5.8, width=1.2, color="#888888",
                   top=True, bottom=True)
    ax.tick_params(axis="y", which="major", direction="out", length=14.4, width=1.7, color="#555555",
                   left=True, right=True, labelsize=16.5, pad=11)
    ax.tick_params(axis="y", which="minor", direction="out", length=7.2, width=1.2, color="#888888",
                   left=True, right=True)
    ax.spines["left"].set(color="#555555", linewidth=2.2)
    ax.spines["bottom"].set(color="#555555", linewidth=2.2)
    ax.spines["top"].set(color="#666666", linewidth=1.6)
    ax.spines["right"].set(color="black", linewidth=1.2)
    ax.set_xlabel(rf"Observed {SPECIES[i]} (µg m$^{{\text{{-}}3}}$)", fontsize=17, color="#111111", va="center")
    ax.set_ylabel(rf"Simulated {SPECIES[i]} (µg m$^{{\text{{-}}3}}$)", fontsize=12.3, color="#111111", va="center")
    ax.xaxis.set_label_coords(.5, -62 / (b - t))
    ax.yaxis.set_label_coords((YLAB_X[i] - l) / (r - l), .5)
    ax.legend(loc="upper left", frameon=False, fontsize=22, borderpad=0, borderaxespad=0,
              handlelength=.92, handletextpad=.74, labelspacing=-.05, scatterpoints=1,
              bbox_to_anchor=((LEG_X[i] - 14 - l) / (r - l), 1 - (LEG_Y[i] - 15 - t) / (b - t)))

# panel frame lines
for y in (1, 620, 1244, 1864, 2489):
    fig.add_artist(Line2D([0, 1], [1 - y / H] * 2, color="#111111", lw=1.6))
for x in (1, 1033, 2065):
    fig.add_artist(Line2D([x / W] * 2, [0, 1], color="#111111", lw=1.6))

fig.savefig("out.png", dpi=100)
